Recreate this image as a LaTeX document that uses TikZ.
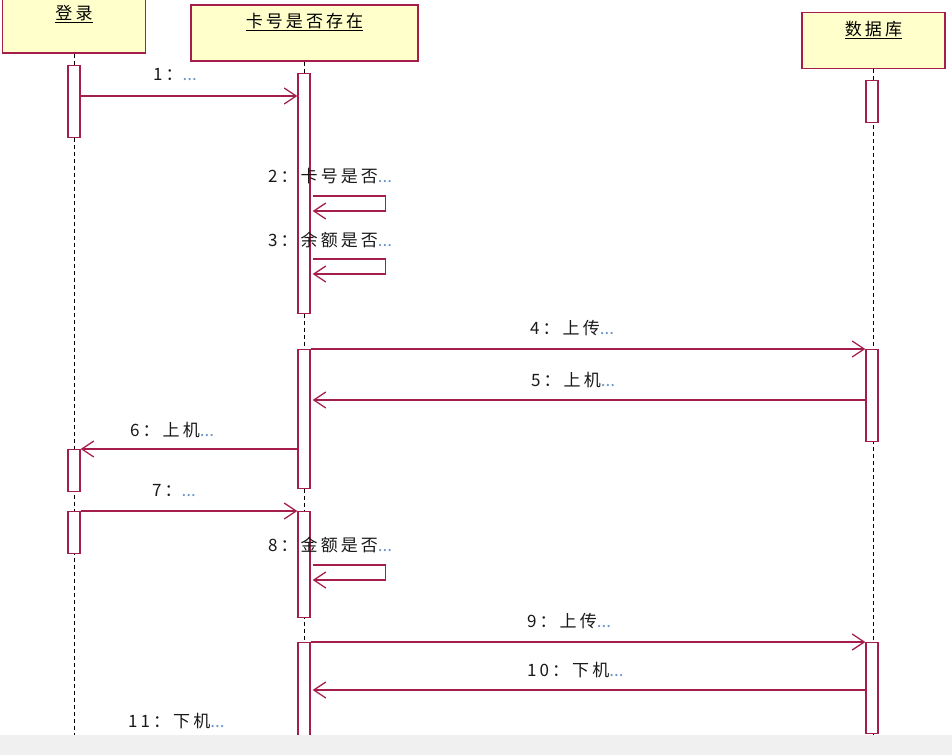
\documentclass[tikz,border=0pt]{standalone}
\usepackage{fontspec}
\newfontfamily\cjk[LetterSpace=18]{Noto Sans CJK SC}
\newfontfamily\cjkdots{Noto Sans CJK SC}
\usetikzlibrary{arrows.meta,calc}
\definecolor{umlred}{RGB}{165,30,75}
\definecolor{umlyellow}{RGB}{255,255,204}
\definecolor{dotblue}{RGB}{110,150,205}
\newcommand{\more}{{\cjkdots\color{dotblue}...}}

\begin{document}
\begin{tikzpicture}[x=1pt, y=-1pt, font=\cjk\fontsize{17}{20}\selectfont]
    % Styles
    \tikzstyle{head} = [rectangle, draw=umlred, line width=1.3pt, fill=umlyellow,
        minimum height=56pt, inner sep=0pt]
    \tikzstyle{act} = [rectangle, draw=umlred, line width=1.3pt, fill=white,
        minimum width=12pt, inner sep=0pt, anchor=north]
    \tikzstyle{life} = [black, line width=1pt, dash pattern=on 4pt off 3pt]
    \tikzstyle{msg} = [umlred, line width=1.3pt, ->, >={Straight Barb[length=12pt,width=16pt]}]
    \tikzstyle{lbl} = [anchor=west, inner sep=0pt, text=black!90]

    \useasboundingbox (0,0) rectangle (952,755);
    \clip (0,0) rectangle (952,755);
    \fill[white] (0,0) rectangle (952,755);

    % Heads
    \node[head, minimum width=143pt] (login) at (74,25) {};
    \node[head, minimum width=227pt] (card) at (304.5,33) {};
    \node[head, minimum width=143pt] (db) at (873.5,40.5) {};
    \node (login-t) at ($(login.north)+(0,18)$) {\underline{登录}};
    \node (card-t) at ($(card.north)+(0,18)$) {\underline{卡号是否存在}};
    \node (db-t) at ($(db.north)+(0,18)$) {\underline{数据库}};

    % Lifelines
    \coordinate (bot) at (0,745);
    \draw[life] (login.south) -- (login.south |- bot);
    \draw[life] (card.south) -- (card.south |- bot);
    \draw[life] (db.south) -- (db.south |- bot);

    % Activations
    \node[act, minimum height=72pt] (la1) at (74,65) {};
    \node[act, minimum height=42pt] (la2) at (74,449) {};
    \node[act, minimum height=42pt] (la3) at (74,511) {};
    \node[act, minimum height=240pt] (ka1) at (304,73) {};
    \node[act, minimum height=139pt] (ka2) at (304,349) {};
    \node[act, minimum height=106pt] (ka3) at (304,511) {};
    \node[act, minimum height=110pt] (ka4) at (304,642) {};
    \node[act, minimum height=42pt] (da1) at (872,80) {};
    \node[act, minimum height=92pt] (da2) at (872,349) {};
    \node[act, minimum height=91pt] (da3) at (872,642) {};

    % Messages
    \coordinate (m1) at (0,96);
    \draw[msg] (la1.east |- m1) -- (ka1.west |- m1);
    \node[lbl] (t1) at (153,75) {1：\more};

    \coordinate (m2) at (0,196);
    \draw[msg] ($(ka1.east |- m2)+(2,0)$) -- ++(73,0) -- ++(0,15) -- ++(-73,0);
    \node[lbl] (t2) at (268,176) {2：卡号是否\more};

    \coordinate (m3) at (0,259);
    \draw[msg] ($(ka1.east |- m3)+(2,0)$) -- ++(73,0) -- ++(0,15) -- ++(-73,0);
    \node[lbl] (t3) at (268,240) {3：余额是否\more};

    \coordinate (m4) at (0,349);
    \draw[msg] (ka2.east |- m4) -- (da2.west |- m4);
    \node[lbl] (t4) at (530,328) {4：上传\more};

    \coordinate (m5) at (0,400);
    \draw[msg] (da2.west |- m5) -- ($(ka2.east |- m5)+(2,0)$);
    \node[lbl] (t5) at (531,380) {5：上机\more};

    \coordinate (m6) at (0,449);
    \draw[msg] (ka2.west |- m6) -- (la2.east |- m6);
    \node[lbl] (t6) at (130,430) {6：上机\more};

    \coordinate (m7) at (0,511);
    \draw[msg] (la3.east |- m7) -- (ka3.west |- m7);
    \node[lbl] (t7) at (152,491) {7：\more};

    \coordinate (m8) at (0,565);
    \draw[msg] ($(ka3.east |- m8)+(2,0)$) -- ++(73,0) -- ++(0,15) -- ++(-73,0);
    \node[lbl] (t8) at (268,545) {8：金额是否\more};

    \coordinate (m9) at (0,642);
    \draw[msg] (ka4.east |- m9) -- (da3.west |- m9);
    \node[lbl] (t9) at (527,621) {9：上传\more};

    \coordinate (m10) at (0,690);
    \draw[msg] (da3.west |- m10) -- ($(ka4.east |- m10)+(2,0)$);
    \node[lbl] (t10) at (527,670) {10：下机\more};

    \node[lbl] (t11) at (128,721) {11：下机\more};

    % Bottom band
    \fill[black!6] (0,735) rectangle (952,755);
\end{tikzpicture}
\end{document}
